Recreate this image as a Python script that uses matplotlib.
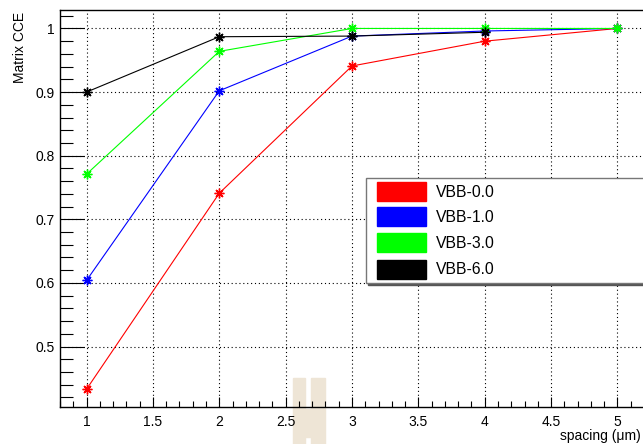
"""
Matrix CCE versus pixel spacing for several back-bias voltages.
"""
import matplotlib
matplotlib.use("Agg")
import matplotlib.pyplot as plt
from matplotlib.patches import Rectangle
from matplotlib.ticker import MultipleLocator

spacing = [1, 2, 3, 4, 5]
cce_vbb0 = [0.433, 0.741, 0.941, 0.980, 1.0]
cce_vbb1 = [0.604, 0.902, 0.988, 0.996, 1.0]
cce_vbb3 = [0.771, 0.964, 1.0, 1.0, 1.0]
cce_vbb6 = [0.900, 0.987, 0.988, 0.994]

labels = ["VBB-0.0", "VBB-1.0", "VBB-3.0", "VBB-6.0"]
colors = ["#ff0000", "#0000ff", "#00ff00", "#000000"]

W, H = 643, 444


def fx(px):
    return px / W


def fy(py):
    return 1 - py / H


plt.rcParams['font.family'] = ['Liberation Sans', 'DejaVu Sans']

fig = plt.figure(figsize=(W / 100, H / 100), dpi=100)
fig.patch.set_facecolor("white")

# beige block near the bottom of the picture
beige = "#eee5d6"
for r in [(293, 378, 12, 66), (311, 378, 14, 66), (305, 409, 6, 28)]:
    x, y, w, h = r
    fig.patches.append(Rectangle((fx(x), fy(y + h)), w / W, h / H,
                                 transform=fig.transFigure, color=beige,
                                 zorder=0))

ax = fig.add_axes([fx(60), fy(407), (644 - 60) / W, (407 - 10) / H])
ax.set_facecolor("none")
ax.set_zorder(1)

series = [cce_vbb0, cce_vbb1, cce_vbb3, cce_vbb6]
for ys, c in zip(series, colors):
    ax.plot(spacing[:len(ys)], ys, color=c, lw=0.8, marker=(8, 2, 0), ms=7,
            mew=1.0)

ax.set_xlim(0.8, 5.2)
ax.set_ylim(0.405, 1.029)
ax.xaxis.set_major_locator(MultipleLocator(0.5))
ax.xaxis.set_minor_locator(MultipleLocator(0.1))
ax.yaxis.set_major_locator(MultipleLocator(0.1))
ax.yaxis.set_minor_locator(MultipleLocator(0.02))
ax.xaxis.set_major_formatter(lambda v, p: f"{v:g}")
ax.yaxis.set_major_formatter(lambda v, p: f"{v:g}")
ax.grid(True, which="major", color="black", lw=0.8, linestyle=(0, (1, 2.5)))

ax.tick_params(which="both", direction="in", labelsize=10, top=False,
               right=False, color="black")
ax.tick_params(axis="x", which="major", length=7, width=0.8, pad=6)
ax.tick_params(axis="x", which="minor", length=4, width=0.8)
ax.tick_params(axis="y", which="major", length=17, width=0.8, pad=4)
ax.tick_params(axis="y", which="minor", length=9, width=0.8)
for s in ax.spines.values():
    s.set_linewidth(1.0)

fig.text(fx(641), fy(436), "spacing (\u03bcm)", ha="right", va="center",
         fontsize=10)
fig.text(fx(20), fy(12), "Matrix CCE", rotation=90, ha="center", va="top",
         fontsize=10)

# legend box drawn by hand (ROOT style, with shadow)
fig.patches.append(Rectangle((fx(368), fy(285)), 290 / W, 106 / H,
                             transform=fig.transFigure, color="#555555",
                             zorder=3))
fig.patches.append(Rectangle((fx(366), fy(283)), 290 / W, 105 / H,
                             transform=fig.transFigure, facecolor="white",
                             edgecolor="#777777", lw=1.0, zorder=4))
row_y = [192, 217, 243, 269]
for yy, lab, c in zip(row_y, labels, colors):
    fig.patches.append(Rectangle((fx(377), fy(yy + 9.5)), 49 / W, 19 / H,
                                 transform=fig.transFigure, color=c, zorder=5))
    fig.text(fx(436), fy(yy), lab, ha="left", va="center", fontsize=11.3,
             zorder=6)

fig.savefig("out.png", dpi=100)
